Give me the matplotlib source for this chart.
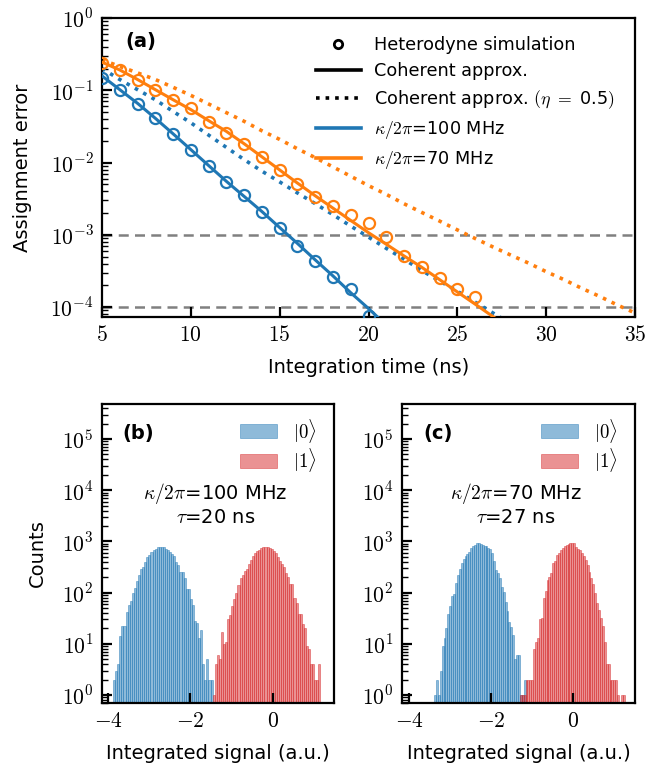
import numpy as np
import matplotlib
matplotlib.use('Agg')
import matplotlib.pyplot as plt
from matplotlib.lines import Line2D
from matplotlib.ticker import LogLocator, NullFormatter, FuncFormatter

# ---------------- data: panel (a) ----------------
t_sim_100 = [5, 6, 7, 8, 9, 10, 11, 12, 13, 14, 15, 16, 17, 18, 19, 20]
err_sim_100 = [0.15, 0.10, 0.065, 0.042, 0.0245, 0.0148, 0.0089, 0.0054, 0.0035,
               0.0021, 0.00123, 0.00070, 0.00044, 0.00026, 0.00018, 0.000075]
t_sim_70 = [5, 6, 7, 8, 9, 10, 11, 12, 13, 14, 15, 16, 17, 18, 19, 20, 21, 22,
            23, 24, 25, 26]
err_sim_70 = [0.24, 0.19, 0.14, 0.10, 0.074, 0.056, 0.036, 0.026, 0.018, 0.012,
              0.0078, 0.0050, 0.0033, 0.0025, 0.0019, 0.00146, 0.00094, 0.00051,
              0.00036, 0.00025, 0.00018, 0.00014]

t_coh_100 = [5, 6, 7, 8, 9, 10, 11, 12, 13, 14, 15, 16, 17, 18, 19, 20, 21]
err_coh_100 = [0.158, 0.102, 0.066, 0.041, 0.025, 0.0151, 0.0091, 0.0055, 0.0034,
               0.0021, 0.00126, 0.00076, 0.00045, 0.00027, 0.000158, 0.0000955,
               0.0000562]
t_coh_70 = [5, 6, 7, 8, 9, 10, 11, 12, 13, 14, 15, 16, 17, 18, 19, 20, 21, 22,
            23, 24, 25, 26, 27, 28]
err_coh_70 = [0.245, 0.191, 0.141, 0.102, 0.074, 0.054, 0.038, 0.027, 0.0182,
              0.0120, 0.0079, 0.0052, 0.00347, 0.00234, 0.00158, 0.00107, 0.00074,
              0.00051, 0.000355, 0.00024, 0.000162, 0.00011, 0.000074, 0.00005]

t_eta_100 = [5, 6, 7, 8, 9, 10, 11, 12, 13, 14, 15, 16, 17, 18, 19, 20, 21, 22,
             23, 24, 25, 26, 27, 28]
err_eta_100 = [0.20, 0.141, 0.102, 0.074, 0.051, 0.0355, 0.024, 0.0162, 0.011,
               0.0076, 0.0054, 0.0038, 0.0027, 0.0019, 0.00132, 0.00093, 0.00065,
               0.00046, 0.00032, 0.00023, 0.000166, 0.000117, 0.000083, 0.000059]
t_eta_70 = [5, 6, 7, 8, 9, 10, 11, 12, 13, 14, 15, 16, 17, 18, 19, 20, 21, 22,
            23, 24, 25, 26, 27, 28, 29, 30, 31, 32, 33, 34, 35]
err_eta_70 = [0.263, 0.214, 0.174, 0.141, 0.110, 0.085, 0.0646, 0.049, 0.0372,
              0.0275, 0.0209, 0.0155, 0.0117, 0.0087, 0.00646, 0.00479, 0.00363,
              0.00269, 0.00204, 0.00155, 0.00117, 0.00089, 0.00068, 0.000525,
              0.000407, 0.000309, 0.00024, 0.000182, 0.000141, 0.000107, 0.000083]

thresholds = [1e-3, 1e-4]

# ---------------- data: panels (b), (c) ----------------
range_b = (-3.876, 1.15)
nbins_b = 100
start0_b = 0
counts0_b = [2, 3, 4, 14, 22, 22, 42, 58, 68, 98, 123, 167, 225, 290, 322, 400,
             505, 555, 620, 665, 715, 770, 790, 770, 790, 720, 690, 620, 570, 520,
             400, 350, 257, 257, 190, 120, 120, 75, 58, 28, 26, 13, 19, 4, 2, 5,
             2, 2]
start1_b = 48
counts1_b = [1, 4, 6, 5, 17, 10, 11, 31, 37, 56, 75, 97, 143, 194, 221, 269, 294,
             369, 441, 521, 596, 663, 694, 735, 778, 790, 770, 760, 713, 663, 596,
             505, 422, 364, 313, 245, 206, 150, 150, 79, 62, 38, 38, 24, 20, 9, 8,
             4, 4, 2, 2, 4]

range_c = (-3.39, 1.255)
nbins_c = 100
start0_c = 0
counts0_c = [1, 2, 1, 3, 9, 13, 20, 38, 54, 85, 96, 155, 224, 295, 386, 449, 521,
             578, 623, 747, 805, 868, 921, 948, 907, 841, 828, 800, 735, 724, 604,
             416, 280, 245, 194, 129, 103, 66, 44, 27, 21, 15, 5, 6, 6, 1, 1, 2]
start1_c = 45
counts1_c = [1, 1, 1, 2, 2, 2, 2, 8, 11, 13, 30, 32, 79, 106, 180, 202, 245, 380,
             409, 537, 604, 671, 758, 817, 868, 882, 921, 948, 935, 780, 703, 671,
             596, 511, 427, 352, 253, 196, 150, 98, 64, 45, 32, 22, 11, 4, 4, 2, 2,
             2, 2, 1, 0, 1, 1]

# ---------------- style ----------------
plt.rcParams['font.family'] = ['DejaVu Sans']
plt.rcParams['mathtext.fontset'] = 'cm'

C_BLUE = '#1f77b4'
C_ORANGE = '#ff7f0e'
C_RED = '#d62728'
TICK_FS = 15.5
LABEL_FS = 14
LW = 2.2

fig = plt.figure(figsize=(6.61, 7.66), dpi=100)
axA = fig.add_axes([0.1543, 0.5862, 0.8064, 0.3903])
axB = fig.add_axes([0.1543, 0.0822, 0.3510, 0.3903])
axC = fig.add_axes([0.6082, 0.0822, 0.3525, 0.3903])

log_fmt = FuncFormatter(lambda v, p: r'$10^{%d}$' % int(round(np.log10(v))))
lin_fmt = FuncFormatter(lambda v, p: r'$%g$' % v)


def style_axes(ax):
    for sp in ax.spines.values():
        sp.set_linewidth(1.6)
    ax.tick_params(which='both', direction='in', top=False, right=False,
                   labelsize=TICK_FS)
    ax.tick_params(which='major', length=7, width=1.6, pad=6)
    ax.tick_params(which='minor', length=4, width=1.0)
    ax.yaxis.set_major_locator(LogLocator(base=10, numticks=20))
    ax.yaxis.set_minor_locator(LogLocator(base=10, subs=np.arange(2, 10), numticks=100))
    ax.yaxis.set_minor_formatter(NullFormatter())
    ax.yaxis.set_major_formatter(log_fmt)
    ax.xaxis.set_major_formatter(lin_fmt)


# ---------------- panel (a) ----------------
ax = axA
for th in thresholds:
    ax.axhline(th, color='gray', ls=(0, (4, 2.5)), lw=1.8, zorder=1)

ax.plot(t_coh_100, err_coh_100, color=C_BLUE, lw=LW, zorder=3)
ax.plot(t_coh_70, err_coh_70, color=C_ORANGE, lw=LW, zorder=3)
ax.plot(t_eta_100, err_eta_100, color=C_BLUE, lw=2.6, ls=':', zorder=2)
ax.plot(t_eta_70, err_eta_70, color=C_ORANGE, lw=2.6, ls=':', zorder=2)
ax.plot(t_sim_100, err_sim_100, 'o', mfc='none', mec=C_BLUE, ms=8, mew=1.6, zorder=4)
ax.plot(t_sim_70, err_sim_70, 'o', mfc='none', mec=C_ORANGE, ms=8, mew=1.6, zorder=4)

ax.set_yscale('log')
ax.set_xlim(5, 35)
ax.set_ylim(7.3e-5, 1.0)
ax.set_xticks([5, 10, 15, 20, 25, 30, 35])
style_axes(ax)
ax.set_xlabel('Integration time (ns)', fontsize=LABEL_FS, labelpad=9)
ax.set_ylabel('Assignment error', fontsize=LABEL_FS, labelpad=13)
ax.text(0.043, 0.92, '(a)', transform=ax.transAxes, fontsize=14,
        fontweight='bold', va='center', ha='left')

handles = [
    Line2D([], [], ls='none', marker='o', mfc='none', mec='black', ms=6, mew=2),
    Line2D([], [], color='black', lw=2.6),
    Line2D([], [], color='black', lw=2.6, ls=':'),
    Line2D([], [], color=C_BLUE, lw=2.6),
    Line2D([], [], color=C_ORANGE, lw=2.6),
]
labels = [
    'Heterodyne simulation',
    'Coherent approx.',
    r'Coherent approx. $(\eta\ =\ $0.5$)$',
    r'$\kappa/2\pi$=100 MHz',
    r'$\kappa/2\pi$=70 MHz',
]
ax.legend(handles, labels, loc='upper right', bbox_to_anchor=(0.962, 0.94),
          frameon=False, fontsize=12.7, handlelength=2.55, handletextpad=0.75,
          labelspacing=0.46, borderaxespad=0, borderpad=0)

# ---------------- panels (b), (c) ----------------
def draw_hist(ax, rng, nb, s0, c0, s1, c1, title_txt, tag, xlim):
    edges = np.linspace(rng[0], rng[1], nb + 1)
    widths = np.diff(edges)
    n0 = len(c0)
    n1 = len(c1)
    ax.bar(edges[s0:s0 + n0], c0, width=widths[s0:s0 + n0], align='edge',
           color=C_BLUE, alpha=0.5, edgecolor=C_BLUE, linewidth=0.6,
           label=r'$|0\rangle$')
    ax.bar(edges[s1:s1 + n1], c1, width=widths[s1:s1 + n1], align='edge',
           color=C_RED, alpha=0.5, edgecolor=C_RED, linewidth=0.6,
           label=r'$|1\rangle$')
    ax.set_yscale('log')
    ax.set_ylim(0.7, 4.8e5)
    ax.set_xlim(*xlim)
    ax.set_xticks([-4, -2, 0])
    style_axes(ax)
    ax.set_xlabel('Integrated signal (a.u.)', fontsize=LABEL_FS, labelpad=9)
    ax.text(0.09, 0.90, tag, transform=ax.transAxes, fontsize=14,
            fontweight='bold', va='center', ha='left')
    ax.text(0.49, 0.665, title_txt, transform=ax.transAxes, fontsize=14,
            ha='center', va='center', linespacing=1.15)
    ax.legend(loc='upper right', bbox_to_anchor=(0.925, 0.958), frameon=False,
              fontsize=13.5, handlelength=2.0, handleheight=0.75,
              handletextpad=0.85, labelspacing=0.1, borderaxespad=0,
              borderpad=0)


draw_hist(axB, range_b, nbins_b, start0_b, counts0_b, start1_b, counts1_b,
          '$\\kappa/2\\pi$=100 MHz\n$\\tau$=20 ns', '(b)', (-4.146, 1.48))
draw_hist(axC, range_c, nbins_c, start0_c, counts0_c, start1_c, counts1_c,
          '$\\kappa/2\\pi$=70 MHz\n$\\tau$=27 ns', '(c)', (-4.17, 1.505))
axB.set_ylabel('Counts', fontsize=LABEL_FS, labelpad=11)

fig.savefig('out.png', dpi=100)
